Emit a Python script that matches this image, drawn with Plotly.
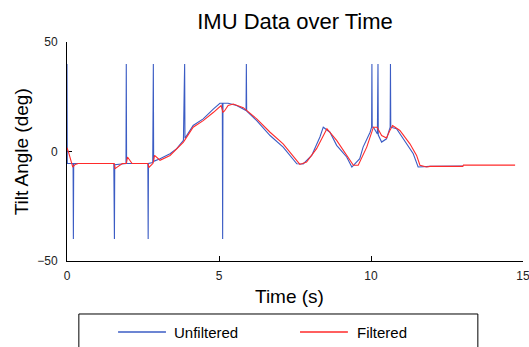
import plotly.graph_objects as go

# Tilt angle from the IMU, raw samples (with dropout spikes) and after filtering
time_unfiltered = [
    0.00, 0.01, 0.20, 0.21, 0.22, 1.54, 1.55, 1.56, 1.57, 1.94, 1.95, 1.96,
    2.66, 2.67, 2.68, 2.82, 2.83, 2.84, 2.85, 3.06, 3.39, 3.61, 3.83, 3.85,
    3.86, 3.87, 3.88, 4.15, 4.48, 4.82, 5.03, 5.11, 5.12, 5.13, 5.30, 5.58,
    5.89, 5.90, 5.91, 6.24, 6.68, 7.11, 7.56, 7.77, 8.05, 8.32, 8.43, 8.65,
    8.87, 9.20, 9.37, 9.63, 9.74, 9.97, 10.02, 10.03, 10.04, 10.08, 10.21,
    10.22, 10.23, 10.24, 10.35, 10.51, 10.63, 10.64, 10.65, 10.84, 11.18,
    11.39, 11.55, 11.83, 11.94, 13.03,
]
angle_unfiltered = [
    40, -5.5, -5.5, -40, -5.5, -5.5, -23, -40, -6, -5.5, 40, -5.5,
    -5.5, -40, -5.5, -5.0, 18, 40, -4.5, -3.3, -1.0, 1.3, 5.1, 15,
    32, 40, 6, 11.9, 14.9, 19.5, 22.0, 22.0, -40, 22.0, 22.0, 21.0,
    18.7, 40, 18.5, 14.1, 7.3, 2.0, -5.6, -5.7, -1.8, 6.6, 11.1, 8.8,
    2.8, -2.5, -7.1, -3.3, 2.0, 8.8, 11.1, 40, 11.1, 11.1, 8.0,
    24, 40, 7.5, 4.3, 5.8, 11.1, 40, 11.1, 10.4, 3.5,
    -1.0, -7.1, -7.1, -6.8, -6.6,
]

time_filtered = [
    0.00, 0.05, 0.19, 0.27, 0.37, 1.55, 1.58, 1.82, 1.95, 1.99, 2.14, 2.66,
    2.69, 2.83, 2.88, 3.06, 3.39, 3.83, 4.15, 4.48, 4.82, 5.07, 5.13, 5.18,
    5.30, 5.47, 5.80, 6.24, 6.68, 7.11, 7.66, 7.88, 8.21, 8.55, 8.87, 9.20,
    9.42, 9.58, 9.86, 10.08, 10.20, 10.35, 10.51, 10.62, 10.71, 10.95, 11.28,
    11.50, 11.61, 11.83, 11.94, 13.02, 13.04, 14.74,
]
angle_filtered = [
    1.7, -0.3, -7.1, -5.9, -5.5, -5.5, -7.8, -5.5, -5.5, -2.5, -5.5, -5.5,
    -7.3, -5.4, -1.8, -4.0, -1.8, 4.3, 11.1, 14.1, 17.9, 21.0, 17.9, 18.5,
    21.0, 21.7, 20.0, 14.9, 8.8, 3.5, -5.9, -4.8, 1.3, 10.4, 5.1, -1.8,
    -6.3, -6.3, 2.0, 11.1, 11.1, 7.3, 6.2, 9.6, 11.9, 9.6, 3.5,
    -1.8, -6.3, -7.1, -6.8, -6.8, -6.2, -6.2,
]

series_names = ["Unfiltered", "Filtered"]
series_colors = ["#3b5cc4", "#ff2a2a"]

x_ticks = [0, 5, 10, 15]
y_ticks = [-50, 0, 50]

FONT = "Liberation Sans, Arial, sans-serif"

fig = go.Figure()
fig.add_trace(go.Scatter(x=time_unfiltered, y=angle_unfiltered, mode="lines",
                         name=series_names[0],
                         line=dict(color=series_colors[0], width=1.1)))
fig.add_trace(go.Scatter(x=time_filtered, y=angle_filtered, mode="lines",
                         name=series_names[1],
                         line=dict(color=series_colors[1], width=1.1)))

axis_common = dict(showgrid=False, zeroline=False, showline=True,
                   linecolor="black", linewidth=1, ticks="inside", ticklen=5,
                   tickcolor="black", tickfont=dict(family=FONT, size=12, color="#222"),
                   mirror=False, layer="below traces", ticklabeloverflow="allow",
                   automargin=False)

fig.update_layout(
    width=529, height=347,
    margin=dict(l=67, r=6, t=42, b=86),
    paper_bgcolor="white", plot_bgcolor="white",
    showlegend=False,
    title=dict(text="IMU Data over Time", x=0.5, xref="paper", xanchor="center",
               y=1 - 21 / 347, yref="container", yanchor="middle",
               font=dict(family=FONT, size=22, color="black")),
    xaxis=dict(range=[0, 15], tickvals=x_ticks, ticklabelstandoff=4, **axis_common),
    yaxis=dict(range=[-50, 50], tickvals=y_ticks, ticklabelstandoff=6, **axis_common),
)

# Axis titles
fig.add_annotation(text="Time (s)", x=0.487, y=-0.164, xref="paper", yref="paper",
                   showarrow=False, xanchor="center", yanchor="middle",
                   font=dict(family=FONT, size=19, color="black"))
fig.add_annotation(text="Tilt Angle (deg)", x=-0.099, y=0.5, xref="paper", yref="paper",
                   showarrow=False, textangle=-90, xanchor="center", yanchor="middle",
                   font=dict(family=FONT, size=19, color="black"))

# Boxed legend below the axes
fig.add_shape(type="rect", xref="paper", yref="paper", x0=0.026, x1=0.901,
              y0=-0.242, y1=-0.46, line=dict(color="black", width=1),
              fillcolor="white", layer="above")
legend_keys = [(0.112, 0.217, 0.230), (0.511, 0.616, 0.632)]
for (lx0, lx1, tx), name, color in zip(legend_keys, series_names, series_colors):
    fig.add_shape(type="line", xref="paper", yref="paper", x0=lx0, x1=lx1,
                  y0=-0.324, y1=-0.324, line=dict(color=color, width=1.5))
    fig.add_annotation(text=name, x=tx, y=-0.328, xref="paper", yref="paper",
                       showarrow=False, xanchor="left", yanchor="middle",
                       font=dict(family=FONT, size=15, color="black"))

fig.write_html("out.html")
